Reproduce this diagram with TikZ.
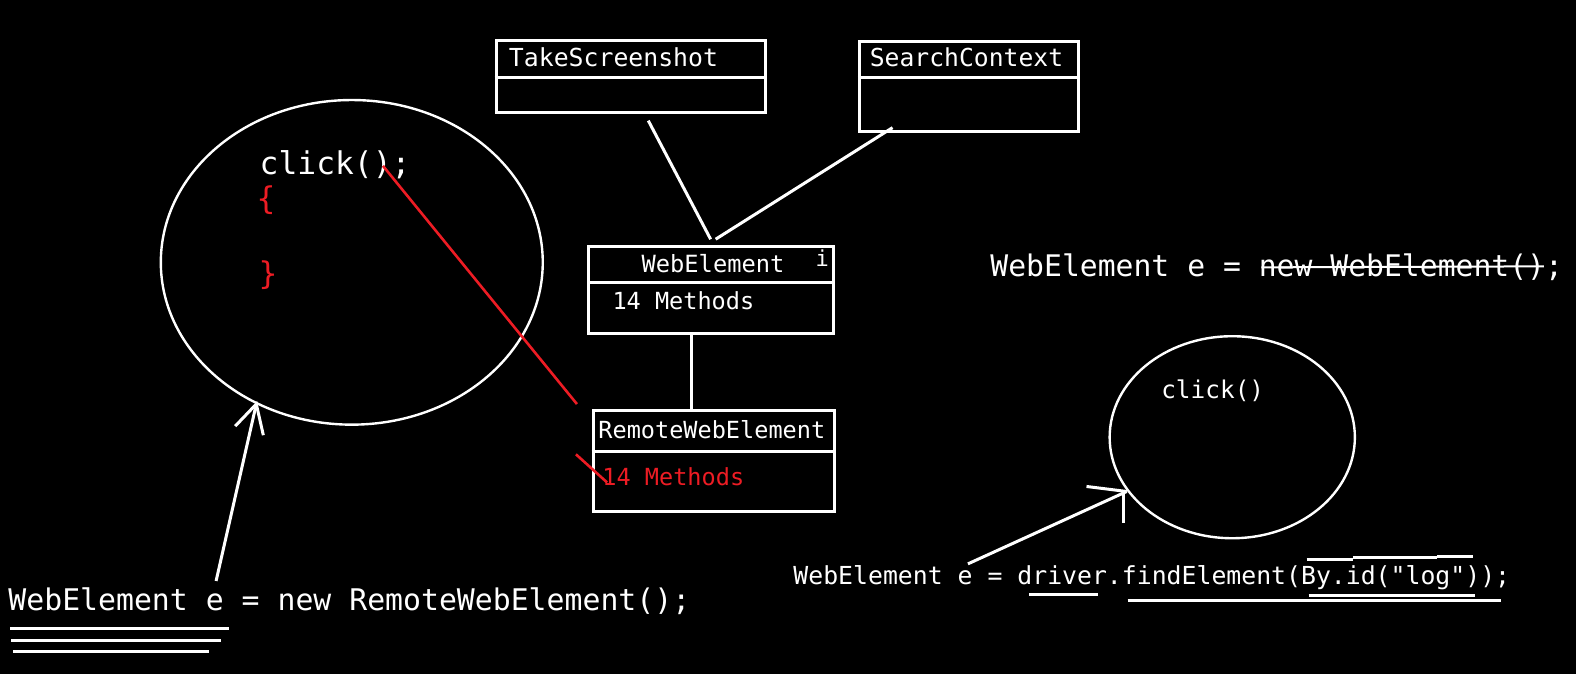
\documentclass[tikz,border=0pt]{standalone}
\usepackage{fontspec}
\newfontfamily\code{DejaVu Sans Mono}
\usetikzlibrary{fit,shapes.geometric}
\definecolor{pred}{HTML}{ED1C24}
\tikzset{
  box/.style={draw=white, line width=1.5pt, inner sep=0pt},
  wline/.style={draw=white, line width=1.5pt},
  rline/.style={draw=pred, line width=1.3pt},
  txt/.style={inner sep=0pt, anchor=mid west, text=white},
  rtxt/.style={txt, text=pred},
  oval/.style={draw=white, line width=1.2pt, ellipse, inner sep=0pt}
}
\newcommand{\fs}[1]{\code\fontsize{#1}{#1}\selectfont}
\begin{document}
\begin{tikzpicture}[x=0.5025pt,y=-0.5025pt]
\fill[black] (0,0) rectangle (1568,671);
\useasboundingbox (0,0) rectangle (1568,671);

% boxes
\node[box, fit={(494,40) (762,112)}] (ts) {};
\draw[wline] (492,77) -- (ts.east |- 0,77);
\node[txt, font=\fs{12.4}] (tstxt) at (506,62) {TakeScreenshot};

\node[box, fit={(855,41) (1073,131)}] (sc) {};
\draw[wline] (sc.west |- 0,77) -- (sc.east |- 0,77);
\node[txt, font=\fs{12.35}] (sctxt) at (865,62) {SearchContext};

\node[box, fit={(586,245) (829,332)}] (we) {};
\draw[wline] (we.west |- 0,281) -- (we.east |- 0,281);
\node[txt, font=\fs{11.85}] (wetxt) at (638,267) {WebElement};
\node[txt, font=\fs{11}] (wei) at (811,261) {i};
\node[txt, font=\fs{11.77}] (wem) at (609,304) {14 Methods};

\node[box, fit={(590,408) (830,509)}] (rwe) {};
\draw[wline] (rwe.west |- 0,449) -- (rwe.east |- 0,449);
\node[txt, font=\fs{11.77}] (rwetxt) at (595,432) {RemoteWebElement};
\node[rtxt, font=\fs{11.77}] (rwem) at (599,479) {14 Methods};

% connectors between boxes
\coordinate (tsl) at (645,120);
\coordinate (scl) at (888,127);
\coordinate (wetop1) at (707,238);
\coordinate (wetop2) at (712,238);
\draw[wline] (tsl) -- (wetop1);
\draw[wline] (scl) -- (wetop2);
\draw[wline] (we.south -| 688,0) -- (rwe.north -| 688,0);

% big ellipse
\node[oval, minimum width=190.95pt, minimum height=162.3pt] (big) at (350,261) {};
\node[txt, font=\fs{15.65}] (click1) at (258,169) {click();};
\node[rtxt, font=\fs{15.65}] (ob) at (255,204) {\{};
\node[rtxt, font=\fs{15.65}] (cb) at (257,279) {\}};

% red lines
\coordinate (r1) at (381,165);
\coordinate (r2) at (574,402);
\coordinate (r3) at (573,452);
\coordinate (r4) at (604,480);
\draw[rline] (r1) -- (r2);
\draw[rline] (r3) -- (r4);

% left arrow
\coordinate (la0) at (215,578);
\coordinate (lat) at (255,402);
\coordinate (lah1) at (234,424);
\coordinate (lah2) at (262,433);
\draw[wline] (la0) -- (lat);
\draw[wline] (lah1) -- (lat) -- (lah2);

% bottom-left code
\node[txt, font=\fs{14.9}] (code1) at (8,603) {WebElement e = new RemoteWebElement();};
\draw[wline] (10,625) -- (228,625);
\draw[wline] (11,637) -- (220,637);
\draw[wline] (13,648) -- (208,648);

% right top code
\node[txt, font=\fs{14.86}] (code2) at (985,271) {WebElement e = new WebElement();};
\draw[draw=white, line width=1pt] (1255,266) -- (1536,265);

% small ellipse
\node[oval, minimum width=122.6pt, minimum height=101pt] (small) at (1226,435) {};
\node[txt, font=\fs{12.2}] (click2) at (1155,392) {click()};

% right arrow
\coordinate (ra0) at (963,561);
\coordinate (rat) at (1121,489);
\coordinate (rah1) at (1081,484);
\coordinate (rah2) at (1118,491);
\coordinate (rah3) at (1118,520);
\draw[wline] (ra0) -- (rat);
\draw[wline] (rah1) -- (rat);
\draw[wline] (rah2) -- (rah3);

% bottom-right code
\node[txt, font=\fs{12.4}] (code3) at (789,577) {WebElement e = driver.findElement(By.id("log"));};
\draw[wline] (1024,591) -- (1092,591);
\draw[wline] (1122,597) -- (1493,597);
\draw[wline] (1302,592) -- (1467,592);
\draw[wline] (1300,557) -- (1346,557) (1346,555) -- (1430,555) (1430,554) -- (1466,554);
\end{tikzpicture}
\end{document}
